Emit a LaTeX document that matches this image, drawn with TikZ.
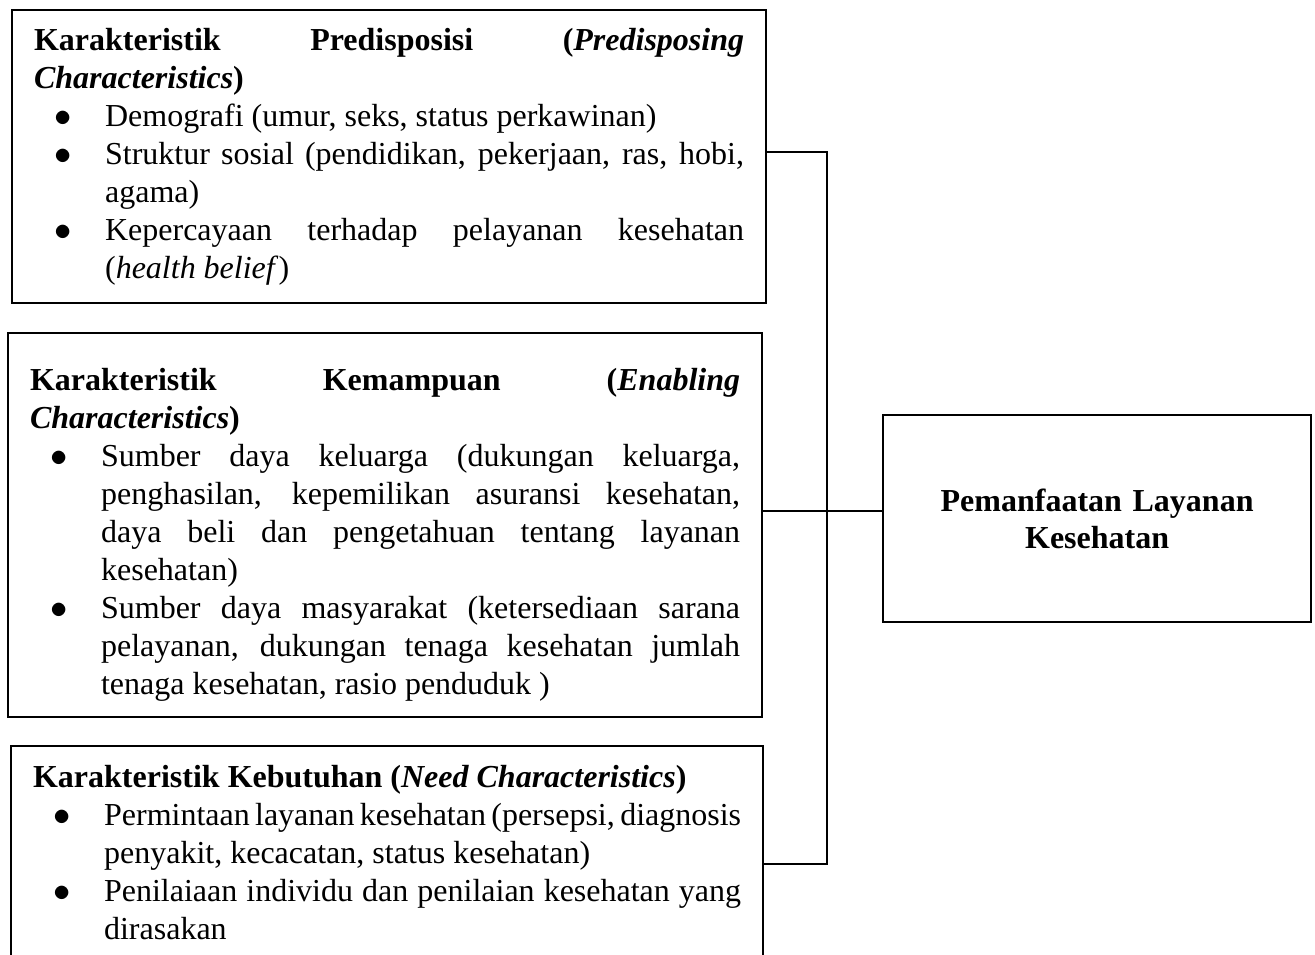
\documentclass[tikz,border=0pt]{standalone}
\usepackage{fontspec}
\setmainfont{Liberation Serif}
\hyphenpenalty=10000
\exhyphenpenalty=10000

% Daftar berbutir di dalam kotak
\newenvironment{daftar}{%
  \begin{list}{$\bullet$}{%
    \setlength{\leftmargin}{35.5pt}%
    \setlength{\labelsep}{16.5pt}%
    \setlength{\labelwidth}{18pt}%
    \setlength{\topsep}{0pt}%
    \setlength{\partopsep}{0pt}%
    \setlength{\itemsep}{0pt}%
    \setlength{\parsep}{0pt}}}%
  {\end{list}}

\begin{document}
\begin{tikzpicture}[x=0.5pt, y=-0.5pt,
    kotak/.style={draw, line width=1.1pt, anchor=north west, inner xsep=11pt, inner ysep=0pt,
      align=justify, font=\fontsize{16pt}{19pt}\selectfont},
    garis/.style={line width=0.55pt}]
    \useasboundingbox (0,0) rectangle (1315,954);
    \clip (0,0) rectangle (1315,954);

    % Karakteristik predisposisi
    \node[kotak, text width=355pt, minimum width=377pt, minimum height=146.5pt] (pred) at (11,9) {%
        \textbf{Karakteristik Predisposisi (\textit{Predisposing}\linebreak \textit{Characteristics})}
        \begin{daftar}
            \item Demografi (umur, seks, status perkawinan)
            \item Struktur sosial (pendidikan, pekerjaan, ras, hobi,\linebreak agama)
            \item Kepercayaan terhadap pelayanan kesehatan\linebreak (\textit{health belief})
        \end{daftar}};

    % Karakteristik kemampuan
    \node[kotak, text width=355pt, minimum width=377pt, minimum height=192pt] (mampu) at (7,332) {%
        \rule{0pt}{21pt}\textbf{Karakteristik Kemampuan (\textit{Enabling}\linebreak \textit{Characteristics})}
        \begin{daftar}
            \item Sumber daya keluarga (dukungan keluarga,\linebreak penghasilan, kepemilikan asuransi kesehatan,\linebreak daya beli dan pengetahuan tentang layanan\linebreak kesehatan)
            \item Sumber daya masyarakat (ketersediaan sarana\linebreak pelayanan, dukungan tenaga kesehatan jumlah\linebreak tenaga kesehatan, rasio penduduk )
        \end{daftar}};

    % Karakteristik kebutuhan
    \node[kotak, text width=354pt, minimum width=376pt, minimum height=106pt] (butuh) at (10,745) {%
        \textbf{Karakteristik Kebutuhan (\textit{Need Characteristics})}
        \begin{daftar}
            \item \spaceskip=0.15em plus 0.3em minus 0.05em
                Permintaan layanan kesehatan (persepsi, diagnosis\linebreak \spaceskip=0pt
                penyakit, kecacatan, status kesehatan)
            \item Penilaiaan individu dan penilaian kesehatan yang\linebreak dirasakan
        \end{daftar}};

    % Pemanfaatan layanan
    \node[kotak, align=center, text width=192pt, minimum width=214pt, minimum height=103.5pt,
        font=\bfseries\fontsize{16pt}{18.5pt}\selectfont] (guna) at (882,414)
        {Pemanfaatan Layanan\\Kesehatan};

    % Garis penghubung
    \coordinate (atas) at (827,152);
    \coordinate (tengah) at (827,511);
    \coordinate (bawah) at (827,864);
    \draw[garis] (pred.east |- atas) -- (atas) -- (bawah) -- (butuh.east |- bawah);
    \draw[garis] (mampu.east |- tengah) -- (guna.west |- tengah);
\end{tikzpicture}
\end{document}
